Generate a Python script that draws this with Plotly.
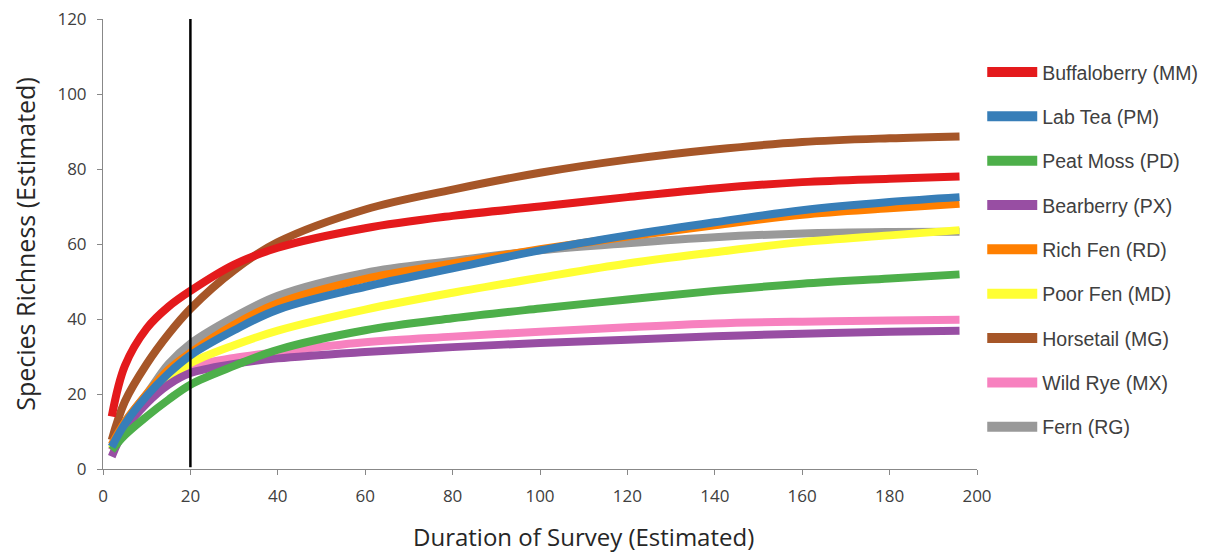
import plotly.graph_objects as go

duration = [2, 5, 10, 15, 20, 30, 40, 60, 80, 100, 120, 140, 160, 180, 196]

buffaloberry = [14.0, 27.5, 37.5, 43.3, 47.5, 54.5, 59.0, 64.2, 67.5, 70.0, 72.5, 74.8, 76.5, 77.4, 78.0]
lab_tea      = [5.9, 12.0, 19.5, 25.5, 30.3, 37.0, 42.5, 48.6, 53.5, 58.3, 62.3, 65.8, 69.0, 71.2, 72.5]
peat_moss    = [5.0, 9.0, 14.0, 18.5, 22.5, 27.5, 31.8, 37.0, 40.2, 42.8, 45.2, 47.5, 49.4, 50.8, 51.9]
bearberry    = [3.3, 10.5, 17.5, 22.5, 25.6, 28.0, 29.5, 31.2, 32.5, 33.6, 34.5, 35.4, 36.1, 36.6, 36.9]
rich_fen     = [6.5, 12.5, 20.0, 26.5, 31.0, 38.5, 44.2, 50.7, 54.8, 58.6, 62.0, 65.0, 67.8, 69.5, 70.7]
poor_fen     = [5.5, 11.5, 18.5, 24.0, 28.2, 33.0, 36.9, 42.5, 47.0, 51.0, 54.8, 57.8, 60.5, 62.3, 63.7]
horsetail    = [7.7, 18.0, 28.0, 36.0, 42.7, 53.0, 60.5, 69.2, 74.5, 79.0, 82.5, 85.2, 87.2, 88.2, 88.7]
wild_rye     = [5.0, 11.5, 19.0, 24.0, 27.2, 29.6, 31.2, 33.8, 35.3, 36.6, 37.8, 38.8, 39.3, 39.6, 39.8]
fern         = [6.0, 12.5, 20.0, 28.0, 33.4, 40.5, 46.2, 52.3, 55.5, 58.3, 60.2, 61.8, 62.8, 63.2, 63.3]

series_names = ["Buffaloberry (MM)", "Lab Tea (PM)", "Peat Moss (PD)", "Bearberry (PX)",
                "Rich Fen (RD)", "Poor Fen (MD)", "Horsetail (MG)", "Wild Rye (MX)", "Fern (RG)"]
series_values = [buffaloberry, lab_tea, peat_moss, bearberry, rich_fen, poor_fen,
                 horsetail, wild_rye, fern]
series_colors = ["#e41a1c", "#377eb8", "#4daf4a", "#984ea3", "#ff7f00", "#ffff33",
                 "#a65628", "#f781bf", "#999999"]

marker_x = 20
x_ticks = [0, 20, 40, 60, 80, 100, 120, 140, 160, 180, 200]
y_ticks = [0, 20, 40, 60, 80, 100, 120]
x_title = "Duration of Survey (Estimated)"
y_title = "Species Richness (Estimated)"

fig = go.Figure()
# draw the first series on top (reverse drawing order), legend keeps original order
for i in reversed(range(len(series_names))):
    fig.add_trace(go.Scatter(
        x=duration, y=series_values[i], name=series_names[i], mode="lines",
        line=dict(color=series_colors[i], width=8, shape="spline", smoothing=1.0),
        legendgroup=f"g{i}", showlegend=False,
    ))
# legend entries with the thicker swatch used by the original
for i, (name, col) in enumerate(zip(series_names, series_colors)):
    fig.add_trace(go.Scatter(
        x=[None], y=[None], name=name, mode="lines",
        line=dict(color=col, width=13),
        legendgroup=f"g{i}", showlegend=True, hoverinfo="skip",
    ))

fig.add_shape(type="line", x0=marker_x, x1=marker_x, y0=0.5, y1=120,
              xref="x", yref="y", line=dict(color="black", width=2.5))

fig.add_annotation(text=x_title, xref="paper", yref="paper", x=0.55, y=-0.15,
                   xanchor="center", yanchor="middle", showarrow=False,
                   font=dict(family="Open Sans", size=24, color="#262626"))

axis_font = dict(family="Open Sans", size=17, color="#404040")
fig.update_layout(
    width=1209, height=557,
    margin=dict(l=95, r=240, t=11, b=96, autoexpand=False),
    paper_bgcolor="white", plot_bgcolor="white",
    showlegend=True,
    legend=dict(x=1.006, xanchor="left", y=0.925, yanchor="top",
                font=dict(family="Liberation Sans", size=19.5, color="#404040"),
                tracegroupgap=16, itemwidth=50, bgcolor="rgba(0,0,0,0)"),
    xaxis=dict(range=[0, 200], tickvals=x_ticks, ticks="outside", ticklen=5,
               tickcolor="#888888", showline=True, linecolor="#888888", linewidth=1,
               showgrid=False, zeroline=False, tickfont=axis_font, automargin=False,
               ticklabelstandoff=7, ticklabeloverflow="allow"),
    yaxis=dict(range=[0, 120], tickvals=y_ticks, ticks="outside", ticklen=5,
               tickcolor="#888888", showline=True, linecolor="#888888", linewidth=1,
               showgrid=False, zeroline=False, tickfont=axis_font, automargin=False,
               ticklabelstandoff=7, ticklabeloverflow="allow",
               title=dict(text=y_title,
                          font=dict(family="Open Sans", size=25, color="#262626"),
                          standoff=28)),
)

fig.write_html("out.html")
